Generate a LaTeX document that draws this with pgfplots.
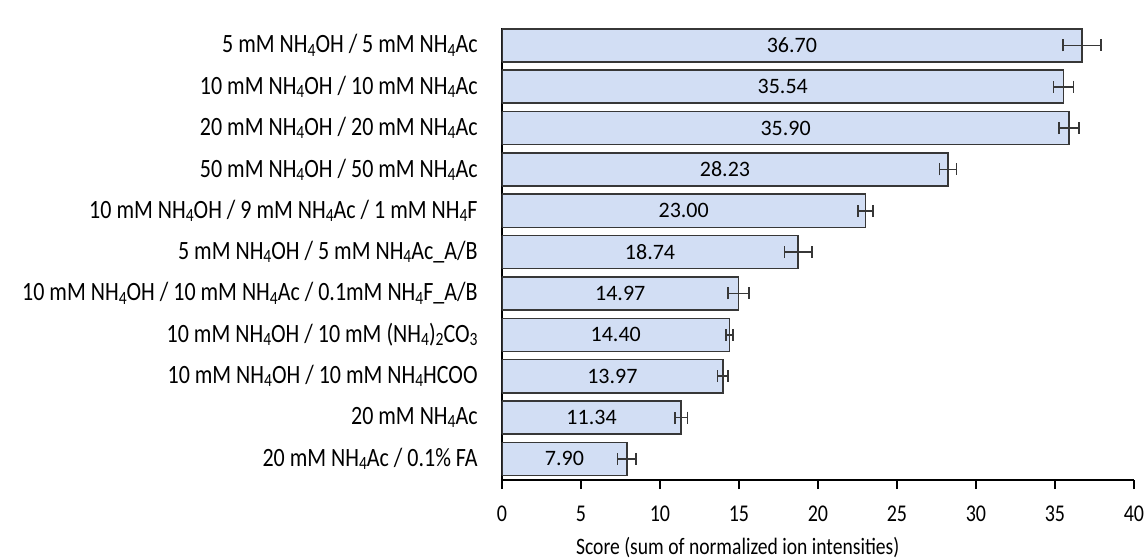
\documentclass[border=0pt]{standalone}
\usepackage{fontspec}
\setmainfont{Carlito}
\usepackage{graphicx}
\usepackage{pgfplots}
\usepackage{pgfplotstable}
\pgfplotsset{compat=1.18}
\newcommand\vs[1]{\scalebox{1}[1.2]{#1}}
\newcommand\s[1]{\raisebox{-0.25ex}{\fontsize{7.8}{8}\selectfont #1}}
\definecolor{barfill}{RGB}{210,222,244}
\definecolor{bardraw}{RGB}{55,55,55}

\pgfplotstableread{
y v e lab
10 36.70 1.20 36.70
9 35.54 0.63 35.54
8 35.90 0.63 35.90
7 28.23 0.54 28.23
6 23.00 0.47 23.00
5 18.74 0.87 18.74
4 14.97 0.67 14.97
3 14.40 0.22 14.40
2 13.97 0.32 13.97
1 11.34 0.39 11.34
0 7.90 0.58 7.90
}\data

\begin{document}
\begin{tikzpicture}
\begin{axis}[name=ax, scale only axis, width=316pt, height=226pt,
 xmin=0, xmax=40, ymin=-0.51, ymax=10.42,
 axis x line*=bottom, axis y line*=left,
 xtick={0,5,...,40},
 xticklabels={\vs{0},\vs{5},\vs{10},\vs{15},\vs{20},\vs{25},\vs{30},\vs{35},\vs{40}},
 ytick={0,...,10},
 yticklabels={
  \vs{20 mM NH\s{4}Ac / 0.1\% FA},
  \vs{20 mM NH\s{4}Ac},
  \vs{10 mM NH\s{4}OH / 10 mM NH\s{4}HCOO},
  \vs{10 mM NH\s{4}OH / 10 mM (NH\s{4})\s{2}CO\s{3}},
  \vs{10 mM NH\s{4}OH / 10 mM NH\s{4}Ac / 0.1mM NH\s{4}F\_A/B},
  \vs{5 mM NH\s{4}OH / 5 mM NH\s{4}Ac\_A/B},
  \vs{10 mM NH\s{4}OH / 9 mM NH\s{4}Ac / 1 mM NH\s{4}F},
  \vs{50 mM NH\s{4}OH / 50 mM NH\s{4}Ac},
  \vs{20 mM NH\s{4}OH / 20 mM NH\s{4}Ac},
  \vs{10 mM NH\s{4}OH / 10 mM NH\s{4}Ac},
  \vs{5 mM NH\s{4}OH / 5 mM NH\s{4}Ac}},
 tick align=outside, major tick length=4.5pt,
 ytick style={draw=none},
 xtick style={line width=0.8pt, black},
 x axis line style={line width=1pt, black},
 y axis line style={line width=0.8pt, black},
 xticklabel style={font=\fontsize{10}{11}\selectfont, yshift=-5pt},
 yticklabel style={font=\fontsize{11}{13}\selectfont, anchor=east, inner sep=0pt, xshift=-7.5pt},
 xlabel={\vs{Score (sum of normalized ion intensities)}},
 xlabel style={font=\fontsize{9.8}{12}\selectfont, at={(axis description cs:0.373,0)}, anchor=center, yshift=-34pt},
 bar width=0.8,
]
\addplot[xbar, fill=barfill, draw=bardraw, line width=0.8pt,
  error bars/.cd, x dir=both, x explicit, error mark=|,
  error bar style={line width=0.8pt, bardraw},
  error mark options={mark size=3pt, line width=0.8pt, bardraw}]
  table[x=v, y=y, x error=e] {\data};
\addplot[only marks, mark=none, nodes near coords, point meta=explicit symbolic,
  every node near coord/.append style={anchor=center, font=\fontsize{11}{12}\selectfont, text=black}]
  table[x expr=\thisrow{v}/2, y=y, meta=lab] {\data};
\end{axis}
\pgfresetboundingbox
\path[use as bounding box] (ax.south west) ++(-251pt,-39pt) rectangle ++(573pt,279pt);
\end{tikzpicture}
\end{document}
